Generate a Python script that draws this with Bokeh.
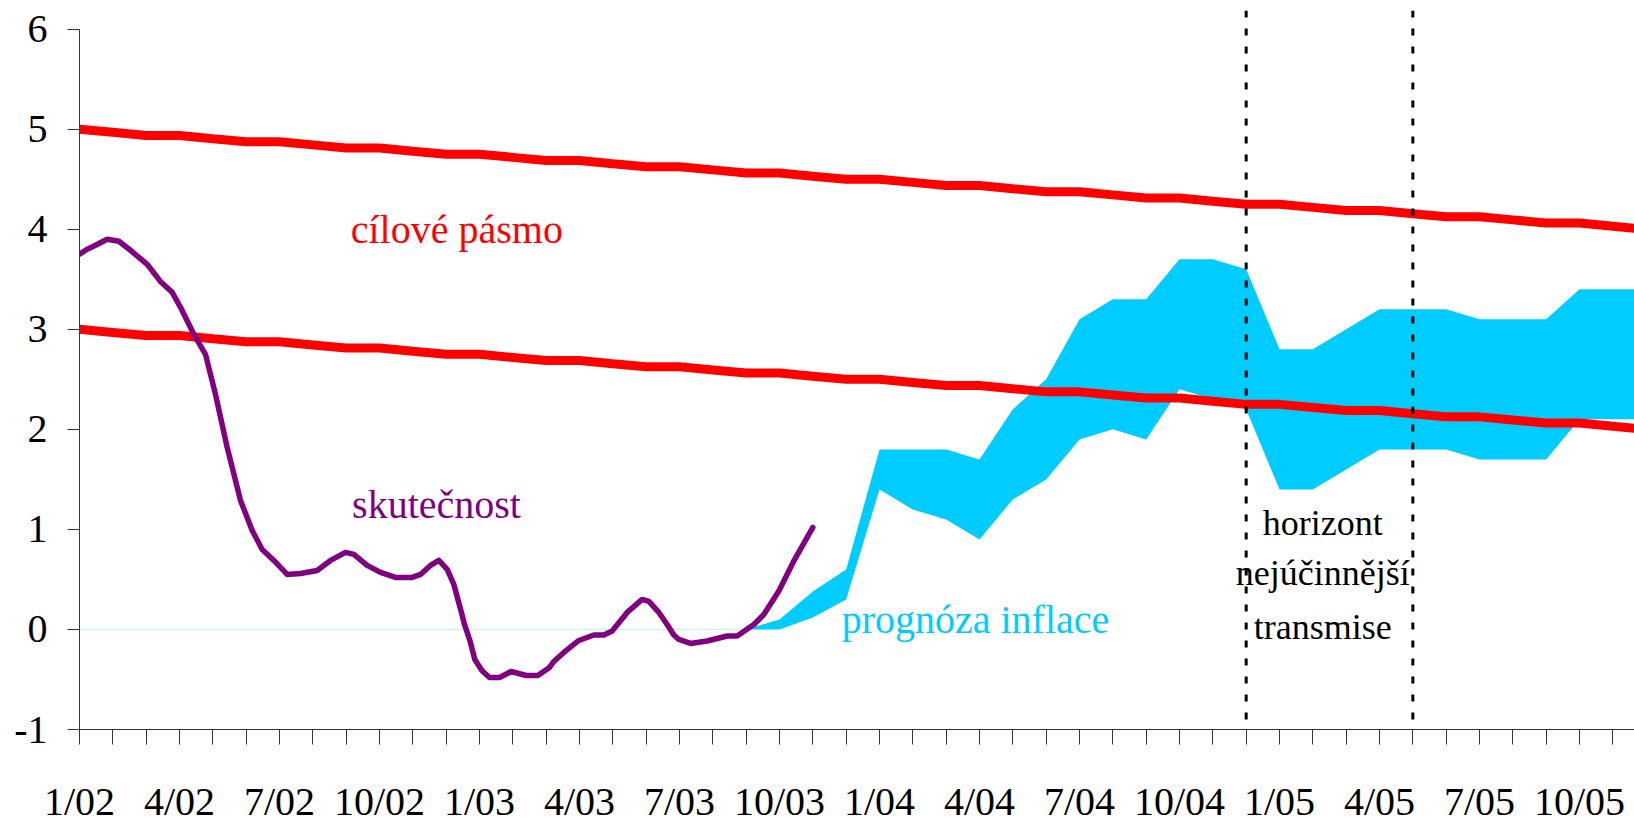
from bokeh.plotting import figure
from bokeh.models import Range1d, FixedTicker, Label, Span
from bokeh.embed import file_html
from bokeh.resources import INLINE

# ---- data (months counted from 1/02 = 0) ----
month_index = list(range(48))
x_tick_months = [0, 3, 6, 9, 12, 15, 18, 21, 24, 27, 30, 33, 36, 39, 42, 45]
x_tick_labels = ["1/02", "4/02", "7/02", "10/02", "1/03", "4/03", "7/03", "10/03",
                 "1/04", "4/04", "7/04", "10/04", "1/05", "4/05", "7/05", "10/05"]
y_ticks = [-1, 0, 1, 2, 3, 4, 5, 6]
y_tick_labels = ["-1", "0", "1", "2", "3", "4", "5", "6"]

target_upper = [5.000, 4.969, 4.938, 4.938, 4.906, 4.875, 4.875, 4.844, 4.813,
                4.813, 4.781, 4.750, 4.750, 4.719, 4.688, 4.688, 4.656, 4.625,
                4.625, 4.594, 4.563, 4.563, 4.531, 4.500, 4.500, 4.469, 4.438,
                4.438, 4.406, 4.375, 4.375, 4.344, 4.313, 4.313, 4.281, 4.250,
                4.250, 4.219, 4.188, 4.188, 4.156, 4.125, 4.125, 4.094, 4.063,
                4.063, 4.031, 4.000]
target_lower = [3.000, 2.969, 2.938, 2.938, 2.906, 2.875, 2.875, 2.844, 2.813,
                2.813, 2.781, 2.750, 2.750, 2.719, 2.688, 2.688, 2.656, 2.625,
                2.625, 2.594, 2.563, 2.563, 2.531, 2.500, 2.500, 2.469, 2.438,
                2.438, 2.406, 2.375, 2.375, 2.344, 2.313, 2.313, 2.281, 2.250,
                2.250, 2.219, 2.188, 2.188, 2.156, 2.125, 2.125, 2.094, 2.063,
                2.063, 2.031, 2.000]

actual_month = [0.0, 0.23, 0.48, 0.83, 1.18, 1.53, 2.03, 2.45, 2.78, 3.03, 3.43,
                3.78, 4.08, 4.43, 4.83, 5.18, 5.48, 5.83, 6.23, 6.63, 7.13, 7.53,
                7.98, 8.23, 8.63, 9.03, 9.48, 9.98, 10.23, 10.53, 10.78, 11.03,
                11.23, 11.45, 11.55, 11.72, 11.86, 12.07, 12.3, 12.6, 12.95, 13.4,
                13.75, 14.1, 14.23, 14.53, 14.98, 15.43, 15.73, 15.98, 16.43,
                16.88, 17.08, 17.38, 17.63, 17.83, 17.98, 18.33, 18.83, 19.43,
                19.73, 20.23, 20.53, 20.98, 21.43, 22.0]
actual_value = [3.75, 3.80, 3.84, 3.90, 3.88, 3.79, 3.65, 3.47, 3.37, 3.22, 2.95,
                2.75, 2.35, 1.82, 1.29, 0.99, 0.80, 0.69, 0.55, 0.56, 0.59, 0.69,
                0.77, 0.75, 0.64, 0.57, 0.52, 0.52, 0.55, 0.64, 0.69, 0.60,
                0.45, 0.18, 0.05, -0.12, -0.30, -0.41, -0.48, -0.48, -0.42, -0.46,
                -0.46, -0.38, -0.32, -0.23, -0.11, -0.055, -0.055, -0.015, 0.17,
                0.30, 0.28, 0.17, 0.05, -0.055, -0.10, -0.14, -0.115, -0.065,
                -0.065, 0.05, 0.15, 0.385, 0.685, 1.02]

forecast_month = list(range(20, 48))
forecast_low = [0.0, 0.0, 0.12, 0.3, 1.4, 1.2, 1.1, 0.9, 1.3, 1.5, 1.9, 2.0, 1.9,
                2.4, 2.3, 2.2, 1.4, 1.4, 1.6, 1.8, 1.8, 1.8, 1.7, 1.7, 1.7, 2.1,
                2.1, 2.1]
forecast_high = [0.0, 0.1, 0.38, 0.6, 1.8, 1.8, 1.8, 1.7, 2.2, 2.5, 3.1, 3.3, 3.3,
                 3.7, 3.7, 3.6, 2.8, 2.8, 3.0, 3.2, 3.2, 3.2, 3.1, 3.1, 3.1, 3.4,
                 3.4, 3.4]

zero_month = [0, 20]
zero_value = [0, 0]

horizon_months = [35, 40]

FONT = "Liberation Serif"

p = figure(width=1634, height=826,
           x_range=Range1d(0, 46.65), y_range=Range1d(-1, 6.187),
           output_backend="svg", toolbar_location=None,
           min_border_left=79, min_border_right=0,
           min_border_top=10, min_border_bottom=97)
p.outline_line_color = None
p.xgrid.visible = False
p.ygrid.visible = False
p.background_fill_color = "white"
p.border_fill_color = "white"

# zero reference line of the forecast area
p.line(zero_month, zero_value, line_color="#BDEFFA", line_width=1)

# forecast band
p.varea(x=forecast_month, y1=forecast_low, y2=forecast_high, fill_color="#00CCFF")

# target band
p.line(month_index, target_upper, line_color="#FF0000", line_width=9)
p.line(month_index, target_lower, line_color="#FF0000", line_width=9)

# actual inflation
p.line(actual_month, actual_value, line_color="#800080", line_width=5.5,
       line_join="round", line_cap="round")

# horizon lines
for hm in horizon_months:
    p.add_layout(Span(location=hm, dimension="height", line_color="black",
                      line_width=3, line_dash="7 11"))

# axes
p.xaxis.ticker = FixedTicker(ticks=month_index)
overrides = {m: "" for m in month_index}
overrides.update({m: lab for m, lab in zip(x_tick_months, x_tick_labels)})
p.xaxis.major_label_overrides = overrides
p.xaxis.major_tick_out = 15
p.xaxis.major_tick_in = 0
p.xaxis.minor_tick_line_color = None
p.xaxis.major_label_standoff = 34
p.xaxis.major_label_text_font = FONT
p.xaxis.major_label_text_font_size = "40px"
p.xaxis.major_label_text_color = "black"
p.xaxis.axis_line_color = "#333333"
p.xaxis.major_tick_line_color = "#333333"

p.yaxis.ticker = FixedTicker(ticks=y_ticks)
p.yaxis.major_label_overrides = {t: lab for t, lab in zip(y_ticks, y_tick_labels)}
p.yaxis.bounds = (-1, 6)
p.yaxis.major_tick_out = 12
p.yaxis.major_tick_in = 0
p.yaxis.minor_tick_line_color = None
p.yaxis.major_label_standoff = 20
p.yaxis.major_label_text_font = FONT
p.yaxis.major_label_text_font_size = "40px"
p.yaxis.major_label_text_color = "black"
p.yaxis.axis_line_color = "#333333"
p.yaxis.major_tick_line_color = "#333333"

# annotations
texts = [
    ("cílové pásmo", 11.32, 4.0, "#FF0000", "40px"),
    ("skutečnost", 10.71, 1.245, "#800080", "40px"),
    ("prognóza inflace", 26.88, 0.10, "#00CCFF", "40px"),
    ("horizont", 37.3, 1.065, "black", "36px"),
    ("nejúčinnější", 37.3, 0.565, "black", "36px"),
    ("transmise", 37.3, 0.02, "black", "36px"),
]
for t, x, y, c, s in texts:
    p.add_layout(Label(x=x, y=y, text=t, text_align="center",
                       text_baseline="alphabetic", text_color=c,
                       text_font=FONT, text_font_size=s))

open("out.html", "w").write(file_html(p, INLINE))
